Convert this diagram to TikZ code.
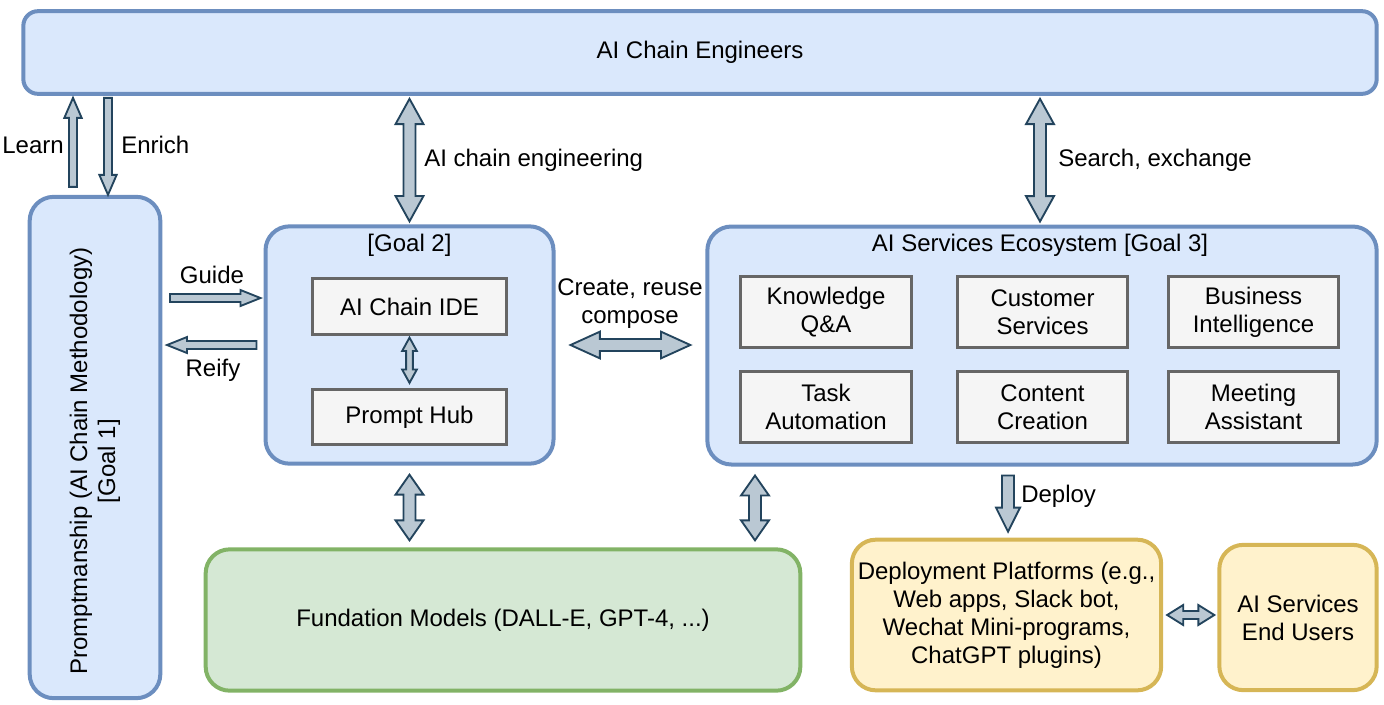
\documentclass[tikz,border=0pt]{standalone}
\usepackage{fontspec}
\setmainfont{Liberation Sans}
\usetikzlibrary{calc}

\definecolor{bluefill}{HTML}{DAE8FC}
\definecolor{blueline}{HTML}{6C8EBF}
\definecolor{grayfill}{HTML}{F5F5F5}
\definecolor{grayline}{HTML}{666666}
\definecolor{greenfill}{HTML}{D5E8D4}
\definecolor{greenline}{HTML}{82B366}
\definecolor{yellowfill}{HTML}{FFF2CC}
\definecolor{yellowline}{HTML}{D6B656}
\definecolor{arrowfill}{HTML}{BAC8D3}
\definecolor{arrowline}{HTML}{23445D}

\tikzset{
  bluebox/.style={draw=blueline, fill=bluefill, line width=3pt, rounded corners=18pt},
  greenbox/.style={draw=greenline, fill=greenfill, line width=3pt, rounded corners=18pt, align=center},
  yellowbox/.style={draw=yellowline, fill=yellowfill, line width=3pt, rounded corners=18pt, align=center},
  itembox/.style={draw=grayline, fill=grayfill, line width=2.2pt, align=center},
  flexarrow/.style={draw=arrowline, fill=arrowfill, line width=1.4pt, line join=miter},
  lbl/.style={inner sep=0.75pt, align=center},
}

% block arrow: from, to, shaft half width, head half width, head length
\newcommand{\flexsingle}[5]{%
  \coordinate (fa) at #1; \coordinate (fb) at #2;
  \coordinate (fh) at ($(fb)!#5!(fa)$);
  \draw[flexarrow] ($(fa)!#3!90:(fb)$) -- ($(fh)!#3!90:(fb)$) -- ($(fh)!#4!90:(fb)$) -- (fb)
    -- ($(fh)!#4!-90:(fb)$) -- ($(fh)!#3!-90:(fb)$) -- ($(fa)!#3!-90:(fb)$) -- cycle;}
% double block arrow, same arguments
\newcommand{\flexdouble}[5]{%
  \coordinate (fa) at #1; \coordinate (fb) at #2;
  \coordinate (fh) at ($(fb)!#5!(fa)$);
  \coordinate (fg) at ($(fa)!#5!(fb)$);
  \draw[flexarrow] (fa) -- ($(fg)!#4!90:(fb)$) -- ($(fg)!#3!90:(fb)$) -- ($(fh)!#3!90:(fb)$)
    -- ($(fh)!#4!90:(fb)$) -- (fb) -- ($(fh)!#4!-90:(fb)$) -- ($(fh)!#3!-90:(fb)$)
    -- ($(fg)!#3!-90:(fb)$) -- ($(fg)!#4!-90:(fb)$) -- cycle;}

\begin{document}
\begin{tikzpicture}[x=0.75pt,y=0.75pt,yscale=-1,xscale=1, font=\fontsize{18}{21}\selectfont]
\useasboundingbox (0,0) rectangle (1384,704);

% Boxes
\node[bluebox, rounded corners=11pt, minimum width=1015pt, minimum height=62pt] (eng) at (700,52.5) {AI Chain Engineers};
\node[bluebox, minimum width=98pt, minimum height=376pt] (prm) at (95,447.5) {};
\node[lbl, rotate=90] (prmtxt) at (95,461) {Promptmanship (AI Chain Methodology)\\{[Goal 1]}};

\node[bluebox, minimum width=216pt, minimum height=178pt] (goal2) at (409.5,345) {};
\node[lbl] (goal2txt) at (409.5,245) {[Goal 2]};
\node[itembox, minimum width=145pt, minimum height=41.5pt] (ide) at (409.5,306.5) {AI Chain IDE};
\node[itembox, minimum width=145pt, minimum height=41.5pt] (hub) at (409.5,417) {Prompt Hub};

\node[bluebox, minimum width=502pt, minimum height=178.5pt] (eco) at (1042,345.5) {};
\node[lbl] (ecotxt) at (1040,245) {AI Services Ecosystem [Goal 3]};
\node[itembox, minimum width=128pt, minimum height=53pt] (kqa) at (826,312) {Knowledge\\Q\&A};
\node[itembox, minimum width=128pt, minimum height=53pt] (cs) at (1042.5,312) {Customer\\Services};
\node[itembox, minimum width=128pt, minimum height=53pt] (bi) at (1253.5,312) {Business\\Intelligence};
\node[itembox, minimum width=128pt, minimum height=53pt] (ta) at (826,407) {Task\\Automation};
\node[itembox, minimum width=128pt, minimum height=53pt] (cc) at (1042.5,407) {Content\\Creation};
\node[itembox, minimum width=128pt, minimum height=53pt] (ma) at (1253.5,407) {Meeting\\Assistant};

\node[greenbox, minimum width=446pt, minimum height=106pt] (fm) at (503,620) {Fundation Models (DALL-E, GPT-4, ...)};
\node[yellowbox, minimum width=232pt, minimum height=113pt] (dep) at (1006.5,615) {Deployment Platforms (e.g.,\\Web apps, Slack bot,\\Wechat Mini-programs,\\ChatGPT plugins)};
\node[yellowbox, minimum width=118pt, minimum height=109pt] (usr) at (1298,617.5) {AI Services\\End Users};

% Block arrows
\flexsingle{($(prm.north -| 73,0)+(0,-8)$)}{($(eng.south -| 73,0)+(0,2)$)}{3pt}{6.5pt}{15pt}
\flexsingle{($(eng.south -| 108,0)+(0,2)$)}{(prm.north -| 108,0)}{3pt}{6.5pt}{15pt}
\flexdouble{($(eng.south -| goal2)+(0,3)$)}{($(goal2.north -| goal2)+(0,-3)$)}{4.5pt}{10.5pt}{19pt}
\flexdouble{($(eng.south -| 1040,0)+(0,3)$)}{($(eco.north -| 1040,0)+(0,-3)$)}{4.5pt}{10.5pt}{19pt}
\flexsingle{(170,298)}{($(goal2.west |- 0,298)+(-3,0)$)}{3pt}{6pt}{15pt}
\flexsingle{($(goal2.west |- 0,345)+(-7,0)$)}{(167,345)}{3pt}{6pt}{15pt}
\flexdouble{($(goal2.east |- 0,345)+(15,0)$)}{($(eco.west |- 0,345)+(-15,0)$)}{4.5pt}{10pt}{22pt}
\flexdouble{($(ide.south)+(0,2)$)}{($(hub.north)+(0,-5)$)}{2.5pt}{5.5pt}{10pt}
\flexdouble{($(goal2.south)+(0,9)$)}{($(fm.north -| goal2)+(0,-7)$)}{4.5pt}{10.5pt}{15pt}
\flexdouble{($(eco.south -| 755,0)+(0,9)$)}{($(fm.north -| 755,0)+(0,-7)$)}{4.5pt}{10.5pt}{15pt}
\flexsingle{($(eco.south -| 1008,0)+(0,9)$)}{($(dep.north -| 1008,0)+(0,-6)$)}{4.5pt}{9pt}{18pt}
\flexdouble{($(dep.east |- 0,615)+(4,0)$)}{($(usr.west |- 0,615)+(-3,0)$)}{3pt}{7.5pt}{12pt}

% Text Node
\node[lbl, anchor=east] (learn) at (65,145) {Learn};
\node[lbl, anchor=west] (enrich) at (120,145) {Enrich};
\node[lbl, anchor=west] (aice) at (423,160) {AI chain engineering};
\node[lbl, anchor=west] (search) at (1057,160) {Search, exchange};
\node[lbl] (guide) at (212,275) {Guide};
\node[lbl] (reify) at (213,370) {Reify};
\node[lbl] (create) at (630,304) {Create, reuse\\compose};
\node[lbl, anchor=west] (deploy) at (1020,496) {Deploy};

\end{tikzpicture}
\end{document}
